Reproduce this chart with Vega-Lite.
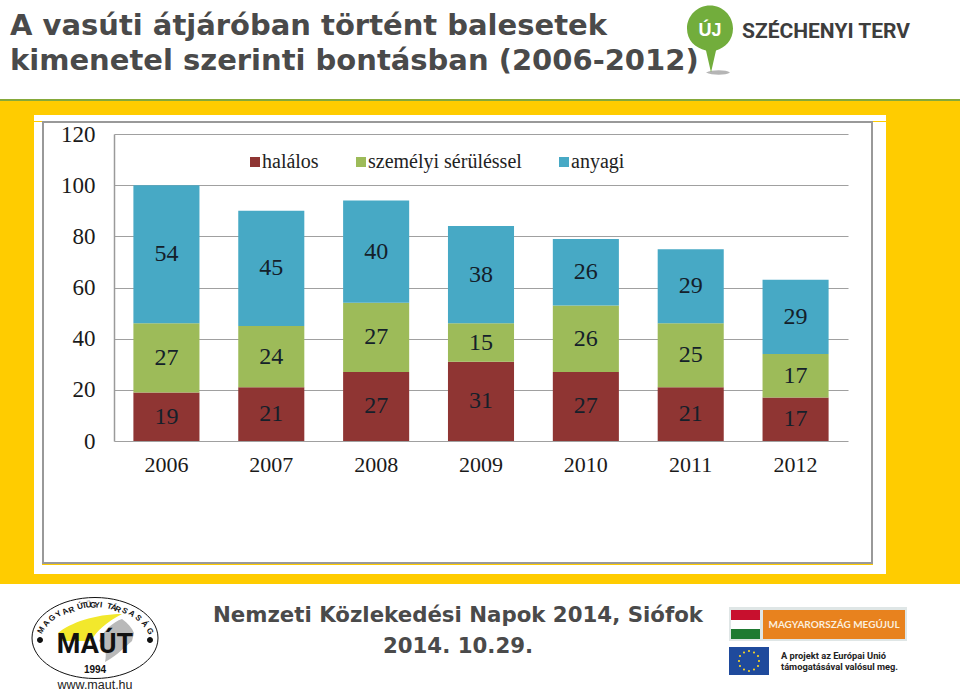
{
"$schema":"https://vega.github.io/schema/vega-lite/v6.json",
"padding":0,
"background":"#ffcc00",
"spacing":0,
"vconcat":[
{"width":960,"height":99,"view":{"fill":"#ffffff","stroke":null},
 "data":{"values":[{"t":"ÚJ","s":"SZÉCHENYI TERV","a":"A vasúti átjáróban történt balesetek","b":"kimenetel szerinti bontásban (2006-2012)"}]},
 "layer":[
  {"mark":{"type":"text","align":"left","baseline":"alphabetic","dx":-470,"dy":-14.5,"font":"DejaVu Sans","fontWeight":"bold","fontSize":29,"color":"#4a4a4a"},"encoding":{"text":{"field":"a"}}},
  {"mark":{"type":"text","align":"left","baseline":"alphabetic","dx":-470,"dy":20.5,"font":"DejaVu Sans","fontWeight":"bold","fontSize":29,"color":"#4a4a4a"},"encoding":{"text":{"field":"b"}}},
  {"mark":{"type":"point","filled":true,"size":4,"opacity":1,"strokeWidth":0,"color":"#b5b5b5","shape":"M226,23 C232,20 246,20 250,23 C246,26 232,26 226,23 Z"},"encoding":{}},
  {"mark":{"type":"point","filled":true,"size":4,"opacity":1,"strokeWidth":0,"color":"#72ad3c","shape":"M207,-21 A23,23 0 1 1 253,-21 C253,-9 245,-2 236,1 L231,23 L226,1 C215,-2 207,-9 207,-21 Z"},"encoding":{}},
  {"mark":{"type":"text","dx":230,"dy":-19,"font":"Liberation Sans","fontWeight":"bold","fontSize":18,"color":"#ffffff"},"encoding":{"text":{"field":"t"}}},
  {"mark":{"type":"text","dx":346,"dy":-18,"font":"Roboto","fontWeight":"bold","fontSize":21,"color":"#3d3d3d"},"encoding":{"text":{"field":"s"}}}
 ]},
{"width":960,"height":2,"view":{"fill":"#86a93a","stroke":null},"data":{"values":[]},"mark":{"type":"rect","opacity":0}},
{"width":960,"height":14,"view":{"stroke":null},"data":{"values":[]},"mark":{"type":"rect","opacity":0}},
{"spacing":0,"hconcat":[
 {"width":34,"height":458,"view":{"stroke":null},"data":{"values":[]},"mark":{"type":"rect","opacity":0}},
 {"spacing":0,"vconcat":[
  {"width":852,"height":6,"view":{"fill":"#ffffff","stroke":null},"data":{"values":[]},"mark":{"type":"rect","opacity":0}},
  {"spacing":0,"hconcat":[
   {"width":8,"height":443,"view":{"fill":"#ffffff","stroke":null},"data":{"values":[]},"mark":{"type":"rect","opacity":0}},
   {"width":829,"height":441,"view":{"fill":"#ffffff","stroke":"#999999","strokeWidth":2},
    "layer":[
     {"data":{"name":"rows","values":[
     {"year":"2006","series":"halálos","rank":1,"value":19},{"year":"2006","series":"személyi sérüléssel","rank":2,"value":27},{"year":"2006","series":"anyagi","rank":3,"value":54},
     {"year":"2007","series":"halálos","rank":1,"value":21},{"year":"2007","series":"személyi sérüléssel","rank":2,"value":24},{"year":"2007","series":"anyagi","rank":3,"value":45},
     {"year":"2008","series":"halálos","rank":1,"value":27},{"year":"2008","series":"személyi sérüléssel","rank":2,"value":27},{"year":"2008","series":"anyagi","rank":3,"value":40},
     {"year":"2009","series":"halálos","rank":1,"value":31},{"year":"2009","series":"személyi sérüléssel","rank":2,"value":15},{"year":"2009","series":"anyagi","rank":3,"value":38},
     {"year":"2010","series":"halálos","rank":1,"value":27},{"year":"2010","series":"személyi sérüléssel","rank":2,"value":26},{"year":"2010","series":"anyagi","rank":3,"value":26},
     {"year":"2011","series":"halálos","rank":1,"value":21},{"year":"2011","series":"személyi sérüléssel","rank":2,"value":25},{"year":"2011","series":"anyagi","rank":3,"value":29},
     {"year":"2012","series":"halálos","rank":1,"value":17},{"year":"2012","series":"személyi sérüléssel","rank":2,"value":17},{"year":"2012","series":"anyagi","rank":3,"value":29}
     ]},
      "transform":[{"stack":"value","groupby":["year"],"sort":[{"field":"rank","order":"ascending"}],"as":["y0","y1"]}],
      "mark":{"type":"bar"},
      "encoding":{
       "x":{"field":"year","type":"nominal","title":null,"scale":{"range":[71,805],"paddingInner":0.37,"paddingOuter":0.185},
        "axis":{"offset":-122,"labelAngle":0,"ticks":false,"domain":false,"labelPadding":13,"labelFont":"Liberation Serif","labelFontSize":22,"labelColor":"#1a1a1a"}},
       "y":{"field":"y0","type":"quantitative","title":null,"scale":{"domain":[0,120],"range":[319,12],"nice":false},
        "axis":{"offset":-71,"values":[0,20,40,60,80,100,120],"ticks":false,"labelPadding":19,"labelFont":"Liberation Serif","labelFontSize":23,"labelColor":"#1a1a1a","domainColor":"#9a9a9a","domainWidth":1.5,"grid":true,"gridColor":"#a0a0a0","gridWidth":1.2}},
       "y2":{"field":"y1"},
       "color":{"field":"series","type":"nominal","title":null,"scale":{"domain":["halálos","személyi sérüléssel","anyagi"],"range":["#8f3533","#9dbb59","#47a9c5"]},
        "legend":{"orient":"none","legendX":245,"legendY":152,"direction":"horizontal","symbolType":"square","symbolSize":100,"symbolStrokeWidth":0,"labelFont":"Liberation Serif","labelFontSize":20,"labelColor":"#222222","labelOffset":-3,"columnPadding":32,"padding":0}}
      }},
     {"data":{"name":"rows"},
      "transform":[{"stack":"value","groupby":["year"],"sort":[{"field":"rank","order":"ascending"}],"as":["y0","y1"]},{"fold":["y0","y1"],"as":["edge","pos"]},{"aggregate":[{"op":"mean","field":"pos","as":"mid"}],"groupby":["year","series","value"]}],
      "mark":{"type":"text","font":"Liberation Serif","fontSize":24,"color":"#14202a"},
      "encoding":{
       "x":{"field":"year","type":"nominal"},
       "y":{"field":"mid","type":"quantitative"},
       "text":{"field":"value","type":"quantitative"}
      }}
    ]},
   {"width":13,"height":443,"view":{"fill":"#ffffff","stroke":null},"data":{"values":[]},"mark":{"type":"rect","opacity":0}}
  ]},
  {"width":852,"height":9,"view":{"fill":"#ffffff","stroke":null},"data":{"values":[]},"mark":{"type":"rect","opacity":0}}
 ]}
]},
{"width":960,"height":10,"view":{"stroke":null},"data":{"values":[]},"mark":{"type":"rect","opacity":0}},
{"spacing":0,"hconcat":[
 {"width":190,"height":108,"view":{"fill":"#ffffff","stroke":null},
  "layer":[
   {"data":{"values":[{"t":"ring"}]},"mark":{"type":"point","filled":true,"size":4,"opacity":1,"fill":"#ffffff","stroke":"#111111","strokeWidth":1,"shape":"M-63,0 A63,40.5 0 1 1 63,0 A63,40.5 0 1 1 -63,0 Z"},"encoding":{}},
   {"data":{"values":[{"t":"swoosh"}]},"mark":{"type":"point","filled":true,"size":4,"opacity":1,"strokeWidth":0,"color":"#f2e82c","shape":"M-37,-5 C-25,-15 0,-24 27,-24 C12,-16 2,-8 -4,3 L-36,3 Z"},"encoding":{}},
   {"data":{"values":[{"t":"road"}]},"mark":{"type":"point","filled":true,"size":4,"opacity":1,"strokeWidth":0,"color":"#b9b9b9","shape":"M4,3 C9,-8 18,-16 27,-19 C33,-15 37,-10 39,-5 L37,3 C27,12 18,20 10,24 C12,14 10,8 4,3 Z"},"encoding":{}},
   {"data":{"values":[{"t":"dots"}]},"mark":{"type":"point","filled":true,"size":4,"opacity":1,"strokeWidth":0,"color":"#111111","shape":"M-58,2 A3,3 0 1 1 -52,2 A3,3 0 1 1 -58,2 Z M52,2 A3,3 0 1 1 58,2 A3,3 0 1 1 52,2 Z"},"encoding":{}},
   {"data":{"values":[{"t":"MAÚT"}]},"mark":{"type":"text","dy":7,"font":"Roboto","fontWeight":"bold","fontSize":27,"color":"#111111"},"encoding":{"text":{"field":"t"}}},
   {"data":{"values":[{"t":"1994"}]},"mark":{"type":"text","dy":32,"font":"Liberation Sans","fontWeight":"bold","fontSize":10,"color":"#111111"},"encoding":{"text":{"field":"t"}}},
   {"data":{"values":[{"t":"www.maut.hu"}]},"mark":{"type":"text","dy":47,"font":"Liberation Sans","fontSize":12.5,"color":"#222222"},"encoding":{"text":{"field":"t"}}},
   {"data":{"values":[{"i":0,"c":"M"},{"i":1,"c":"A"},{"i":2,"c":"G"},{"i":3,"c":"Y"},{"i":4,"c":"A"},{"i":5,"c":"R"},{"i":7,"c":"Ú"},{"i":8,"c":"T"},{"i":9,"c":"Ü"},{"i":10,"c":"G"},{"i":11,"c":"Y"},{"i":12,"c":"I"},{"i":14,"c":"T"},{"i":15,"c":"Á"},{"i":16,"c":"R"},{"i":17,"c":"S"},{"i":18,"c":"A"},{"i":19,"c":"S"},{"i":20,"c":"Á"},{"i":21,"c":"G"}]},
    "mark":{"type":"text","font":"Liberation Sans","fontWeight":"bold","fontSize":8,"color":"#111111"},
    "encoding":{
     "text":{"field":"c"},
     "theta":{"field":"i","type":"quantitative","scale":{"domain":[0,5,10.5,16,21],"range":[-1.43,-0.7,0,0.68,1.45]}},
     "radius":{"field":"i","type":"quantitative","scale":{"type":"linear","domain":[0,5,10.5,16,21],"range":[54,36,32,36,55]}},
     "angle":{"field":"i","type":"quantitative","scale":{"domain":[0,5,10.5,16,21],"range":[-60,-25,0,25,60]}}
    }}
  ]},
 {"width":536,"height":108,"view":{"fill":"#ffffff","stroke":null},
  "layer":[
   {"data":{"values":[{"t":"Nemzeti Közlekedési Napok 2014, Siófok"}]},"mark":{"type":"text","baseline":"alphabetic","dy":-16,"font":"DejaVu Sans","fontWeight":"bold","fontSize":21.3,"color":"#4a4a4a"},"encoding":{"text":{"field":"t"}}},
   {"data":{"values":[{"t":"2014. 10.29."}]},"mark":{"type":"text","baseline":"alphabetic","dy":15,"font":"DejaVu Sans","fontWeight":"bold","fontSize":21.3,"color":"#4a4a4a"},"encoding":{"text":{"field":"t"}}}
  ]},
 {"width":234,"height":108,"view":{"fill":"#ffffff","stroke":null},
  "layer":[
   {"data":{"values":[{"t":"frame"}]},"mark":{"type":"point","filled":true,"size":4,"opacity":1,"strokeWidth":0,"color":"#dfe6e6","shape":"M-114,-31 H64 V3 H-114 Z"},"encoding":{}},
   {"data":{"values":[{"t":"red"}]},"mark":{"type":"point","filled":true,"size":4,"opacity":1,"strokeWidth":0,"color":"#c8102e","shape":"M-112,-28 H-83 V-18 H-112 Z"},"encoding":{}},
   {"data":{"values":[{"t":"white"}]},"mark":{"type":"point","filled":true,"size":4,"opacity":1,"strokeWidth":0,"color":"#ffffff","shape":"M-112,-18 H-83 V-9 H-112 Z"},"encoding":{}},
   {"data":{"values":[{"t":"green"}]},"mark":{"type":"point","filled":true,"size":4,"opacity":1,"strokeWidth":0,"color":"#1f7a32","shape":"M-112,-9 H-83 V1 H-112 Z"},"encoding":{}},
   {"data":{"values":[{"t":"orange"}]},"mark":{"type":"point","filled":true,"size":4,"opacity":1,"strokeWidth":0,"color":"#e8821e","shape":"M-80,-28 H62 V1 H-80 Z"},"encoding":{}},
   {"data":{"values":[{"t":"eu"}]},"mark":{"type":"point","filled":true,"size":4,"opacity":1,"strokeWidth":0,"color":"#1f4a9c","shape":"M-114,9 H-74 V37 H-114 Z"},"encoding":{}},
   {"data":{"values":[{"t":"stars"}]},"mark":{"type":"point","filled":true,"size":4,"opacity":1,"strokeWidth":0,"color":"#f5d327","shape":"M-95,13 a1,1 0 1 1 2,0 a1,1 0 1 1 -2,0 Z M-90,14.5 a1,1 0 1 1 2,0 a1,1 0 1 1 -2,0 Z M-86,18 a1,1 0 1 1 2,0 a1,1 0 1 1 -2,0 Z M-85,23 a1,1 0 1 1 2,0 a1,1 0 1 1 -2,0 Z M-86,28 a1,1 0 1 1 2,0 a1,1 0 1 1 -2,0 Z M-90,31.5 a1,1 0 1 1 2,0 a1,1 0 1 1 -2,0 Z M-95,33 a1,1 0 1 1 2,0 a1,1 0 1 1 -2,0 Z M-100,31.5 a1,1 0 1 1 2,0 a1,1 0 1 1 -2,0 Z M-104,28 a1,1 0 1 1 2,0 a1,1 0 1 1 -2,0 Z M-105,23 a1,1 0 1 1 2,0 a1,1 0 1 1 -2,0 Z M-104,18 a1,1 0 1 1 2,0 a1,1 0 1 1 -2,0 Z M-100,14.5 a1,1 0 1 1 2,0 a1,1 0 1 1 -2,0 Z"},"encoding":{}},
   {"data":{"values":[{"t":"MAGYARORSZÁG MEGÚJUL"}]},"mark":{"type":"text","dx":-9,"dy":-13,"font":"Lato","fontWeight":"bold","fontSize":10,"color":"#fbeedd"},"encoding":{"text":{"field":"t"}}},
   {"data":{"values":[{"t":"A projekt az Európai Unió"}]},"mark":{"type":"text","align":"left","dx":-62,"dy":18,"font":"Roboto","fontWeight":"bold","fontSize":9.3,"color":"#222222"},"encoding":{"text":{"field":"t"}}},
   {"data":{"values":[{"t":"támogatásával valósul meg."}]},"mark":{"type":"text","align":"left","dx":-62,"dy":29,"font":"Roboto","fontWeight":"bold","fontSize":9.3,"color":"#222222"},"encoding":{"text":{"field":"t"}}}
  ]}
]}
]
}
